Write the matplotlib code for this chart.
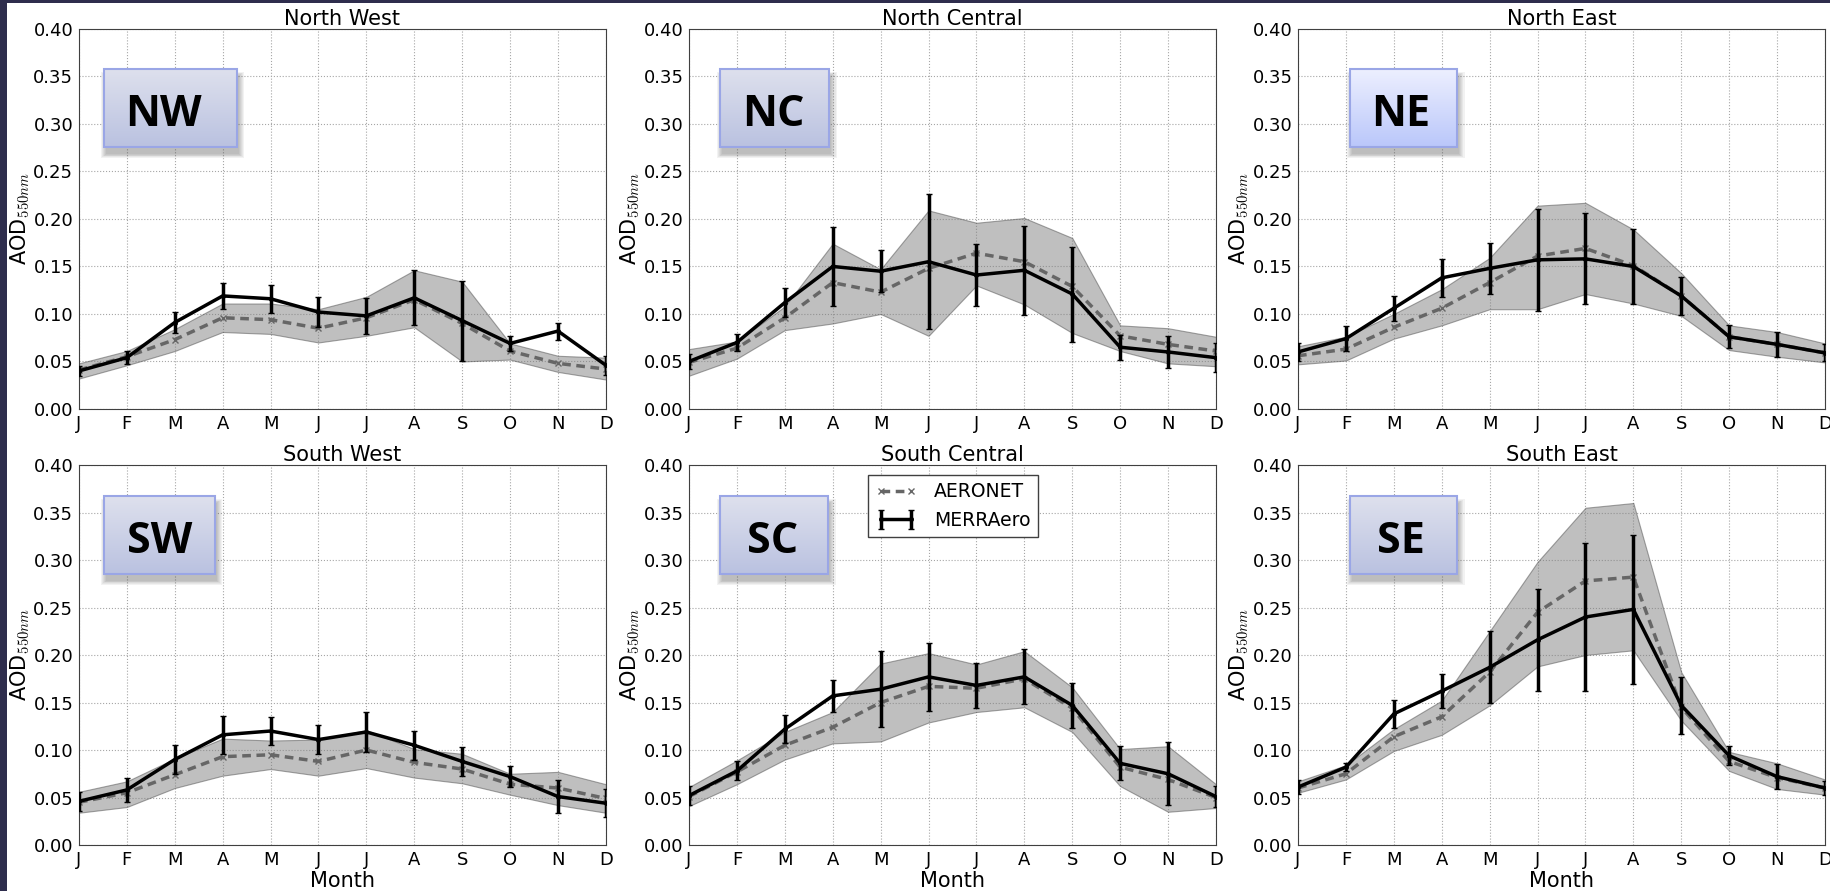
import numpy as np
import matplotlib.pyplot as plt
from matplotlib.patches import Rectangle
from matplotlib.ticker import FormatStrFormatter, MultipleLocator

plt.rcParams['mathtext.fontset'] = 'cm'
plt.rcParams['font.family'] = 'DejaVu Sans'

months = ['J', 'F', 'M', 'A', 'M', 'J', 'J', 'A', 'S', 'O', 'N', 'D']
regions = ['NW', 'NC', 'NE', 'SW', 'SC', 'SE']
titles = ['North West', 'North Central', 'North East',
          'South West', 'South Central', 'South East']

# MERRAero monthly mean AOD and its error bar half-width
merra_nw = [0.040, 0.054, 0.091, 0.119, 0.116, 0.102, 0.098, 0.117, 0.093, 0.069, 0.082, 0.046]
merra_err_nw = [0.005, 0.007, 0.011, 0.014, 0.015, 0.016, 0.019, 0.029, 0.042, 0.008, 0.009, 0.010]
merra_nc = [0.050, 0.070, 0.112, 0.150, 0.145, 0.155, 0.141, 0.146, 0.121, 0.065, 0.060, 0.054]
merra_err_nc = [0.008, 0.009, 0.015, 0.042, 0.022, 0.071, 0.033, 0.047, 0.050, 0.013, 0.017, 0.015]
merra_ne = [0.060, 0.074, 0.106, 0.138, 0.148, 0.157, 0.158, 0.150, 0.119, 0.076, 0.068, 0.059]
merra_err_ne = [0.009, 0.013, 0.013, 0.020, 0.027, 0.054, 0.048, 0.039, 0.020, 0.012, 0.013, 0.009]
merra_sw = [0.046, 0.058, 0.090, 0.116, 0.120, 0.111, 0.119, 0.105, 0.088, 0.072, 0.051, 0.044]
merra_err_sw = [0.010, 0.013, 0.015, 0.020, 0.015, 0.015, 0.021, 0.015, 0.015, 0.011, 0.017, 0.015]
merra_sc = [0.052, 0.078, 0.122, 0.157, 0.164, 0.177, 0.168, 0.177, 0.147, 0.086, 0.075, 0.051]
merra_err_sc = [0.010, 0.010, 0.015, 0.017, 0.040, 0.036, 0.024, 0.029, 0.024, 0.018, 0.033, 0.011]
merra_se = [0.061, 0.082, 0.138, 0.162, 0.187, 0.216, 0.240, 0.248, 0.147, 0.094, 0.072, 0.060]
merra_err_se = [0.007, 0.004, 0.015, 0.018, 0.038, 0.054, 0.078, 0.078, 0.030, 0.010, 0.013, 0.007]

# AERONET monthly mean AOD with its lower / upper spread
aeronet_nw = [0.041, 0.055, 0.073, 0.096, 0.094, 0.085, 0.096, 0.115, 0.090, 0.061, 0.048, 0.042]
aeronet_lo_nw = [0.032, 0.046, 0.061, 0.081, 0.079, 0.070, 0.077, 0.086, 0.050, 0.052, 0.039, 0.031]
aeronet_hi_nw = [0.048, 0.061, 0.084, 0.111, 0.111, 0.105, 0.118, 0.146, 0.134, 0.069, 0.056, 0.054]
aeronet_nc = [0.049, 0.064, 0.096, 0.133, 0.123, 0.148, 0.164, 0.155, 0.129, 0.077, 0.068, 0.061]
aeronet_lo_nc = [0.035, 0.053, 0.083, 0.090, 0.100, 0.077, 0.130, 0.110, 0.080, 0.061, 0.048, 0.045]
aeronet_hi_nc = [0.063, 0.071, 0.108, 0.174, 0.147, 0.209, 0.196, 0.201, 0.180, 0.088, 0.085, 0.076]
aeronet_ne = [0.056, 0.063, 0.086, 0.106, 0.133, 0.161, 0.169, 0.151, 0.119, 0.076, 0.068, 0.059]
aeronet_lo_ne = [0.047, 0.051, 0.074, 0.088, 0.105, 0.105, 0.121, 0.111, 0.098, 0.062, 0.055, 0.049]
aeronet_hi_ne = [0.066, 0.076, 0.100, 0.126, 0.159, 0.214, 0.217, 0.189, 0.143, 0.088, 0.081, 0.069]
aeronet_sw = [0.045, 0.055, 0.074, 0.093, 0.095, 0.088, 0.100, 0.087, 0.080, 0.064, 0.060, 0.049]
aeronet_lo_sw = [0.034, 0.040, 0.060, 0.073, 0.080, 0.073, 0.081, 0.071, 0.065, 0.053, 0.042, 0.034]
aeronet_hi_sw = [0.056, 0.067, 0.091, 0.112, 0.110, 0.111, 0.121, 0.101, 0.096, 0.075, 0.077, 0.064]
aeronet_sc = [0.051, 0.077, 0.105, 0.124, 0.150, 0.167, 0.165, 0.175, 0.144, 0.082, 0.069, 0.050]
aeronet_lo_sc = [0.041, 0.064, 0.090, 0.107, 0.109, 0.129, 0.140, 0.145, 0.119, 0.062, 0.035, 0.039]
aeronet_hi_sc = [0.061, 0.089, 0.119, 0.140, 0.191, 0.202, 0.190, 0.204, 0.166, 0.101, 0.104, 0.064]
aeronet_se = [0.060, 0.075, 0.114, 0.135, 0.182, 0.245, 0.278, 0.282, 0.145, 0.088, 0.071, 0.060]
aeronet_lo_se = [0.055, 0.069, 0.099, 0.116, 0.147, 0.188, 0.200, 0.205, 0.131, 0.078, 0.059, 0.053]
aeronet_hi_se = [0.067, 0.084, 0.122, 0.152, 0.225, 0.298, 0.355, 0.360, 0.182, 0.098, 0.086, 0.069]

merra = [merra_nw, merra_nc, merra_ne, merra_sw, merra_sc, merra_se]
merra_err = [merra_err_nw, merra_err_nc, merra_err_ne, merra_err_sw, merra_err_sc, merra_err_se]
aeronet = [aeronet_nw, aeronet_nc, aeronet_ne, aeronet_sw, aeronet_sc, aeronet_se]
aeronet_lo = [aeronet_lo_nw, aeronet_lo_nc, aeronet_lo_ne, aeronet_lo_sw, aeronet_lo_sc, aeronet_lo_se]
aeronet_hi = [aeronet_hi_nw, aeronet_hi_nc, aeronet_hi_ne, aeronet_hi_sw, aeronet_hi_sc, aeronet_hi_se]

# label box extents in axes fraction (x0, x1, y0, y1) and text x shift
box_pos = [(0.047, 0.300, 0.689, 0.895),
           (0.059, 0.266, 0.689, 0.895),
           (0.099, 0.302, 0.689, 0.895),
           (0.047, 0.258, 0.713, 0.918),
           (0.059, 0.264, 0.713, 0.918),
           (0.099, 0.302, 0.713, 0.918)]
text_dx = [-0.014, -0.003, -0.005, 0.0, -0.003, -0.005]
box_top = [(0.87, 0.88, 0.93), (0.87, 0.88, 0.93), (0.93, 0.94, 1.00),
           (0.87, 0.88, 0.93), (0.87, 0.88, 0.93), (0.87, 0.88, 0.93)]
box_bot = [(0.73, 0.76, 0.88), (0.73, 0.76, 0.88), (0.73, 0.78, 0.98),
           (0.73, 0.76, 0.88), (0.73, 0.76, 0.88), (0.73, 0.76, 0.88)]


def label_box(ax, text, pos, dx, top, bot):
    x0, x1, y0, y1 = pos
    # soft drop shadow
    for k in range(6):
        d = 0.004 * k
        ax.add_patch(Rectangle((x0 + 0.004 - d / 2, y0 - 0.018 - d / 2), x1 - x0 + d, y1 - y0 + d,
                               transform=ax.transAxes, facecolor='0.3', edgecolor='none',
                               alpha=0.07, zorder=5))
    t = np.linspace(0, 1, 64)[:, None, None]
    grad = np.array(top)[None, None, :] * (1 - t) + np.array(bot)[None, None, :] * t
    ax.imshow(grad, extent=(x0, x1, y0, y1), transform=ax.transAxes, aspect='auto',
              interpolation='bilinear', zorder=6)
    ax.add_patch(Rectangle((x0, y0), x1 - x0, y1 - y0, transform=ax.transAxes, fill=False,
                           edgecolor='#9aa6e6', lw=1.5, zorder=7))
    ax.text((x0 + x1) / 2 + dx, (y0 + y1) / 2 - 0.018, text, transform=ax.transAxes,
            ha='center', va='center', fontsize=31, fontweight='bold',
            family='Open Sans', color='k', zorder=8)


fig = plt.figure(figsize=(18.31, 8.91), dpi=100)
lefts = [0.0431, 0.3763, 0.7089]
bottoms = [0.541, 0.0516]
x = np.arange(12)

for i in range(6):
    r, c = divmod(i, 3)
    ax = fig.add_axes([lefts[c], bottoms[r], 0.2878, 0.4265])
    ax.fill_between(x, aeronet_lo[i], aeronet_hi[i], facecolor='0.5', edgecolor='0.3',
                    alpha=0.5, lw=0.8, zorder=2)
    ax.plot(x, aeronet[i], ls='--', dashes=(2.5, 1.6), color='0.4', lw=2.5,
            marker='x', ms=4, mew=1, label='AERONET', zorder=3)
    ax.errorbar(x, merra[i], yerr=merra_err[i], color='k', lw=2.5, elinewidth=2.5,
                capsize=2, marker='.', ms=5, label='MERRAero', zorder=4)
    label_box(ax, regions[i], box_pos[i], text_dx[i], box_top[i], box_bot[i])

    ax.set_xlim(0, 11)
    ax.set_ylim(0, 0.4)
    ax.set_xticks(x)
    ax.set_xticklabels(months)
    ax.yaxis.set_major_locator(MultipleLocator(0.05))
    ax.yaxis.set_major_formatter(FormatStrFormatter('%.2f'))
    ax.tick_params(length=0, pad=4, labelsize=13)
    for sp in ax.spines.values():
        sp.set_color('0.25')
    ax.grid(True, ls=':', color='0.65', lw=0.8)
    ax.set_axisbelow(True)
    ax.set_title(titles[i], fontsize=15, pad=3)
    ax.set_ylabel(r'AOD$_{550nm}$', fontsize=15, labelpad=1)
    if r == 1:
        ax.set_xlabel('Month', fontsize=15, labelpad=2)
    if regions[i] == 'SC':
        leg = ax.legend(loc='upper left', bbox_to_anchor=(0.34, 0.974), borderaxespad=0,
                        fontsize=13.5, numpoints=2, fancybox=False, framealpha=1,
                        edgecolor='0.25', handlelength=2.2, handletextpad=0.9)
        leg.set_zorder(10)

# dark frame strips at the left and top of the picture
fig.patches.append(Rectangle((0, 0), 7 / 1831, 1, transform=fig.transFigure,
                             facecolor='#2e2d4d', edgecolor='none'))
fig.patches.append(Rectangle((0, 1 - 3 / 891), 1, 3 / 891, transform=fig.transFigure,
                             facecolor='#2e2d4d', edgecolor='none'))

plt.savefig('out.png', dpi=100)
